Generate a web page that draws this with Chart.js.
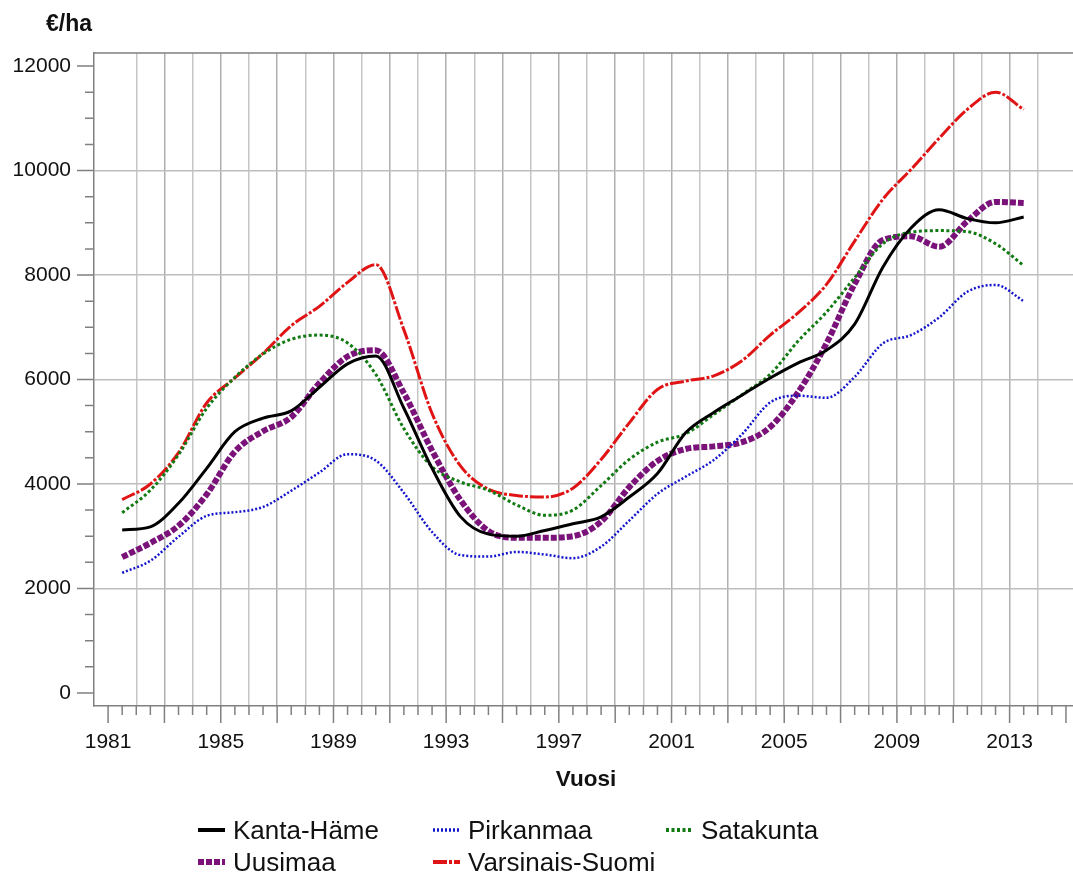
<!DOCTYPE html>
<html>
<head>
<meta charset="utf-8">
<title>Pellon hinta maakunnittain</title>
<script src="https://cdn.jsdelivr.net/npm/chart.js@4.4.1/dist/chart.umd.min.js"></script>
<style>
  html, body { margin: 0; padding: 0; background: #fff; }
  body { width: 1073px; height: 878px; position: relative; overflow: hidden;
         font-family: "Liberation Sans", Arial, sans-serif; color: #111; }
  #box { position: absolute; left: 0; top: 0; width: 1073px; height: 878px; }
  .unit { position: absolute; left: 46px; top: 10px; font-weight: bold; font-size: 23px; line-height: 26px; }
  .xtitle { position: absolute; left: 94px; width: 984px; top: 766px; text-align: center;
            font-weight: bold; font-size: 22.5px; line-height: 26px; }
  .item { position: absolute; height: 30px; display: flex; align-items: center;
          font-size: 26px; line-height: 30px; white-space: nowrap; }
  .item svg { width: 27px; height: 10px; margin-right: 8px; flex: none; }
</style>
</head>
<body>
<div id="box"><canvas id="chart"></canvas></div>
<div class="unit">€/ha</div>
<div class="xtitle">Vuosi</div>
<div id="legend"></div>

<script>
// ---- data (€/ha, plotted at mid-year) ----
const years = [1981, 1982, 1983, 1984, 1985, 1986, 1987, 1988, 1989, 1990,
               1991, 1992, 1993, 1994, 1995, 1996, 1997, 1998, 1999, 2000,
               2001, 2002, 2003, 2004, 2005, 2006, 2007, 2008, 2009, 2010,
               2011, 2012, 2013];

const kantaHame = [3120, 3180, 3630, 4300, 5000, 5260, 5400, 5850, 6300, 6450,
                   5450, 4300, 3380, 3040, 3000, 3110, 3240, 3370, 3750, 4200,
                   4980, 5370, 5700, 6030, 6320, 6560, 7060, 8150, 8900, 9250,
                   9080, 9000, 9110];
const pirkanmaa = [2300, 2530, 2990, 3390, 3460, 3560, 3870, 4220, 4570, 4450,
                   3830, 3080, 2640, 2610, 2700, 2650, 2580, 2800, 3300, 3810,
                   4140, 4460, 4950, 5560, 5690, 5650, 6050, 6690, 6850, 7190,
                   7680, 7810, 7500];
const satakunta = [3450, 3880, 4560, 5450, 6040, 6490, 6770, 6850, 6700, 6100,
                   5060, 4330, 4040, 3880, 3600, 3400, 3500, 3970, 4470, 4800,
                   4960, 5330, 5710, 6100, 6740, 7290, 7950, 8600, 8820, 8850,
                   8830, 8600, 8180];
const uusimaa   = [2600, 2870, 3200, 3800, 4620, 5010, 5280, 5930, 6440, 6560,
                   5740, 4640, 3700, 3100, 2970, 2970, 3000, 3280, 3940, 4440,
                   4670, 4720, 4800, 5090, 5760, 6690, 7830, 8670, 8740, 8540,
                   9030, 9400, 9380];
const varsinaisSuomi = [3700, 4000, 4600, 5550, 6030, 6500, 7030, 7400, 7860, 8200,
                   6950, 5350, 4350, 3900, 3780, 3750, 3920, 4470, 5170, 5810,
                   5970, 6070, 6360, 6850, 7280, 7820, 8650, 9450, 10020, 10620,
                   11170, 11500, 11170];

const seriesNames = ['Kanta-Häme', 'Pirkanmaa', 'Satakunta', 'Uusimaa', 'Varsinais-Suomi'];
const seriesValues = [kantaHame, pirkanmaa, satakunta, uusimaa, varsinaisSuomi];

// tick labels
const xLabelYears = [1981, 1985, 1989, 1993, 1997, 2001, 2005, 2009, 2013];
const yTickValues = [0, 2000, 4000, 6000, 8000, 10000, 12000];

// ---- styles ----
const lineStyles = [
  { color: '#000000', width: 3,   dash: [] },
  { color: '#1414cc', width: 2.5, dash: [2, 2] },
  { color: '#127a12', width: 3,   dash: [3, 2.5] },
  { color: '#7a127a', width: 6,   dash: [6, 2] },
  { color: '#e01414', width: 3,   dash: [14, 2, 3, 2] }
];
const tickFont = { family: '"Liberation Sans", Arial, sans-serif', size: 21 };
const AXIS_COLOR = '#808080';

// one gridline per year (none at the first labelled year)
const gridYears = [];
for (let y = 1981; y <= 2014; y++) gridYears.push(y);

// ---- frame: top border + major/minor tick marks ----
const frame = {
  id: 'frame',
  afterDraw(chart) {
    const { ctx, chartArea: a, scales: { x, y } } = chart;
    ctx.save();
    ctx.strokeStyle = AXIS_COLOR;
    ctx.lineWidth = 1.5;
    ctx.beginPath();
    ctx.moveTo(a.left, a.top); ctx.lineTo(a.right, a.top);
    for (let v = 0; v <= 12000; v += 500) {
      const py = y.getPixelForValue(v);
      const len = v % 2000 === 0 ? 17 : 9;
      ctx.moveTo(a.left - len, py); ctx.lineTo(a.left, py);
    }
    for (let v = 1981; v <= 2015; v += 0.5) {
      const px = x.getPixelForValue(v);
      const len = (Number.isInteger(v) && v % 2 === 1) ? 17 : 9;
      ctx.moveTo(px, a.bottom); ctx.lineTo(px, a.bottom + len);
    }
    ctx.stroke();
    ctx.restore();
  }
};

// ---- datasets ----
const datasets = seriesNames.map((name, i) => ({
  label: name,
  data: years.map((yr, k) => ({ x: yr + 0.5, y: seriesValues[i][k] })),
  borderColor: lineStyles[i].color,
  borderWidth: lineStyles[i].width,
  borderDash: lineStyles[i].dash,
  borderCapStyle: 'butt',
  cubicInterpolationMode: 'monotone',
  pointRadius: 0,
  fill: false
}));

const chart = new Chart(document.getElementById('chart').getContext('2d'), {
  type: 'line',
  data: { datasets },
  options: {
    responsive: true,
    maintainAspectRatio: false,
    animation: false,
    layout: { padding: { top: 53, right: 0, bottom: 122, left: 0 } },
    plugins: { legend: { display: false }, tooltip: { enabled: false } },
    scales: {
      x: {
        type: 'linear', min: 1980.5, max: 2015.25,
        afterBuildTicks: s => { s.ticks = gridYears.map(v => ({ value: v })); },
        afterFit: s => { s.height = 50; },
        grid: {
          drawTicks: false, lineWidth: 1.5,
          color: c => (c.tick && c.tick.value === 1981) ? 'rgba(0,0,0,0)'
                      : (c.tick && c.tick.value % 2 === 1 ? '#b0b0b0' : '#c6c6c6')
        },
        border: { color: AXIS_COLOR, width: 1.5 },
        ticks: {
          autoSkip: false, maxRotation: 0, padding: 24, color: '#111', font: tickFont,
          callback: v => xLabelYears.includes(v) ? String(v) : ''
        }
      },
      y: {
        min: -250, max: 12250,
        afterBuildTicks: s => { s.ticks = yTickValues.map(v => ({ value: v })); },
        afterFit: s => { s.width = 94; },
        grid: {
          drawTicks: false, lineWidth: 1.5,
          color: c => (c.tick && c.tick.value > 0 && c.tick.value < 12000) ? '#bdbdbd' : 'rgba(0,0,0,0)'
        },
        border: { color: AXIS_COLOR, width: 1.5 },
        ticks: { autoSkip: false, padding: 23, color: '#111', font: tickFont, callback: v => String(v) }
      }
    }
  },
  plugins: [frame]
});

// ---- legend (html) ----
const legendPos = [
  { left: 198, top: 815 }, { left: 433, top: 815 }, { left: 666, top: 815 },
  { left: 198, top: 847 }, { left: 433, top: 847 }
];
const legendEl = document.getElementById('legend');
seriesNames.forEach((name, i) => {
  const s = lineStyles[i];
  const item = document.createElement('div');
  item.className = 'item';
  item.style.left = legendPos[i].left + 'px';
  item.style.top = legendPos[i].top + 'px';
  item.innerHTML =
    `<svg viewBox="0 0 27 10"><line x1="0" y1="5" x2="27" y2="5" stroke="${s.color}"
       stroke-width="${Math.min(s.width + 1, 6)}" stroke-dasharray="${s.dash.join(' ') || 'none'}"/></svg>` +
    `<span>${name}</span>`;
  legendEl.appendChild(item);
});
</script>
</body>
</html>
